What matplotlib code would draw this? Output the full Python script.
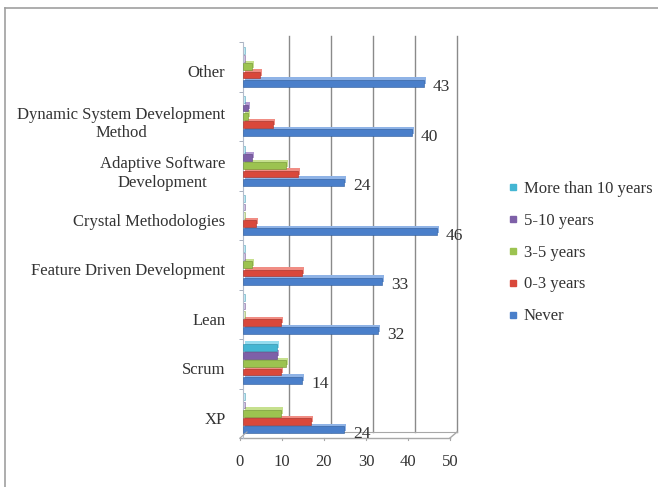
import numpy as np
import matplotlib.pyplot as plt
import matplotlib.transforms as mtransforms
from matplotlib.lines import Line2D

# experience with each agile method, number of respondents
categories = ['XP', 'Scrum', 'Lean', 'Feature Driven Development',
              'Crystal Methodologies', 'Adaptive Software\nDevelopment',
              'Dynamic System Development\nMethod', 'Other']
never = [24, 14, 32, 33, 46, 24, 40, 43]
zero_three = [16, 9, 9, 14, 3, 13, 7, 4]
three_five = [9, 10, 0, 2, 0, 10, 1, 2]
five_ten = [0, 8, 0, 0, 0, 2, 1, 0]
more_ten = [0, 8, 0, 0, 0, 0, 0, 0]

series = [('Never', never), ('0-3 years', zero_three), ('3-5 years', three_five),
          ('5-10 years', five_ten), ('More than 10 years', more_ten)]
colors = ['#4a7fca', '#d9483b', '#9cc350', '#7e60a8', '#44b6d3']
tops = ['#8fb3e6', '#f08d84', '#c6e08e', '#b39bd2', '#95dcef']
edges = ['#2d5a99', '#a32c22', '#6f9230', '#5a4080', '#2a8aa4']
xticks = [0, 10, 20, 30, 40, 50]

FONT = 'Liberation Serif'
TXT = '#333333'
W, H = 658, 487

fig = plt.figure(figsize=(W / 100, H / 100), dpi=100)


def fx(px):
    return px / W


def fy(py):
    return 1 - py / H


ax = fig.add_axes([fx(243.5), fy(438), fx(453.5) - fx(243.5), fy(42) - fy(438)])
ax.set_xlim(0, 50)
ax.set_ylim(-0.5, len(categories) - 0.5)
for s in ['top', 'right', 'bottom']:
    ax.spines[s].set_visible(False)
ax.spines['left'].set_color('#b4bccb')
ax.spines['left'].set_linewidth(0.8)

y = np.arange(len(categories))
step = 0.166
h = 0.14

# back wall gridlines, pushed up and right for the depth
back = mtransforms.offset_copy(ax.transData, fig=fig, x=3.5, y=6, units='dots')
for v in xticks[1:]:
    ax.plot([v, v], [-0.5, len(categories) - 0.5], color='#8a8a8a', lw=1,
            transform=back, clip_on=False, zorder=0)
ax.plot([0, 50], [-0.5, -0.5], color='#a8a8a8', lw=0.8, transform=back,
        clip_on=False, zorder=0)

# front floor edge and its corner joins
front = mtransforms.offset_copy(ax.transData, fig=fig, x=-3.5, y=0, units='dots')
ax.plot([0, 50], [-0.5, -0.5], color='#a8a8a8', lw=1, transform=front,
        clip_on=False, zorder=0)
for v in xticks:
    ax.plot([v, v], [-0.5, -0.5 - 0.05], color='#a8a8a8', lw=0.8,
            transform=front, clip_on=False)
fig.add_artist(Line2D([fx(450), fx(457)], [fy(438), fy(432)], color='#a8a8a8', lw=1))
fig.add_artist(Line2D([fx(240), fx(247)], [fy(438), fy(432)], color='#a8a8a8', lw=0.8))

# boxes: a lighter face behind gives the top/end of each bar
face = mtransforms.offset_copy(ax.transData, fig=fig, x=2, y=2.5, units='dots')
for i, (name, vals) in enumerate(series):
    pos = y + (i - 2) * step
    for p, v in zip(pos, vals):
        if v == 0:
            ax.barh(p, 0.25, height=h, color=tops[i], edgecolor=edges[i],
                    linewidth=0.5, alpha=0.6, zorder=2)
            continue
        ax.barh(p, v, height=h, color=tops[i], linewidth=0, transform=face, zorder=2)
        ax.barh(p, v, height=h, color=colors[i], edgecolor=edges[i],
                linewidth=0.4, zorder=3)

# value labels on the Never series
for p, v in zip(y - 2 * step, never):
    ax.annotate(str(v), (v, p), xytext=(9, -4), textcoords='offset pixels',
                va='center', ha='left', fontsize=12.5, family=FONT, color=TXT)

# category names sit a little below the group centre
ax.set_yticks(y - 0.09)
ax.set_yticklabels(categories, fontsize=12, family=FONT, color=TXT,
                   multialignment='center')
ax.set_yticks(np.arange(len(categories) + 1) - 0.5, minor=True)
ax.tick_params(axis='y', which='major', length=0, pad=13)
ax.tick_params(axis='y', which='minor', length=3, color='#9aa4b4', direction='out')
ax.set_xticks([])

lbl = mtransforms.offset_copy(ax.get_xaxis_transform(), fig=fig, x=-3.5, y=-24,
                              units='dots')
for v in xticks:
    ax.text(v, 0, str(v), transform=lbl, ha='center', va='center',
            fontsize=12, family=FONT, color=TXT)

# legend, top entry is the longest experience
handles = [Line2D([], [], marker='s', ls='', markersize=5, color=colors[i])
           for i in range(len(series))][::-1]
labels = [name for name, _ in series][::-1]
fig.legend(handles, labels, loc='upper left', bbox_to_anchor=(fx(494), fy(166)),
           frameon=False, handlelength=0.5, handletextpad=0.4,
           labelspacing=0.95, prop={'family': FONT, 'size': 12},
           labelcolor=TXT)

# outer chart frame
fig.add_artist(Line2D([fx(5), fx(5)], [fy(8), 0], color='#a0a0a0', lw=1.2))
fig.add_artist(Line2D([fx(5), 1], [fy(8), fy(8)], color='#a0a0a0', lw=1.2))

fig.savefig('out.png', dpi=100)
